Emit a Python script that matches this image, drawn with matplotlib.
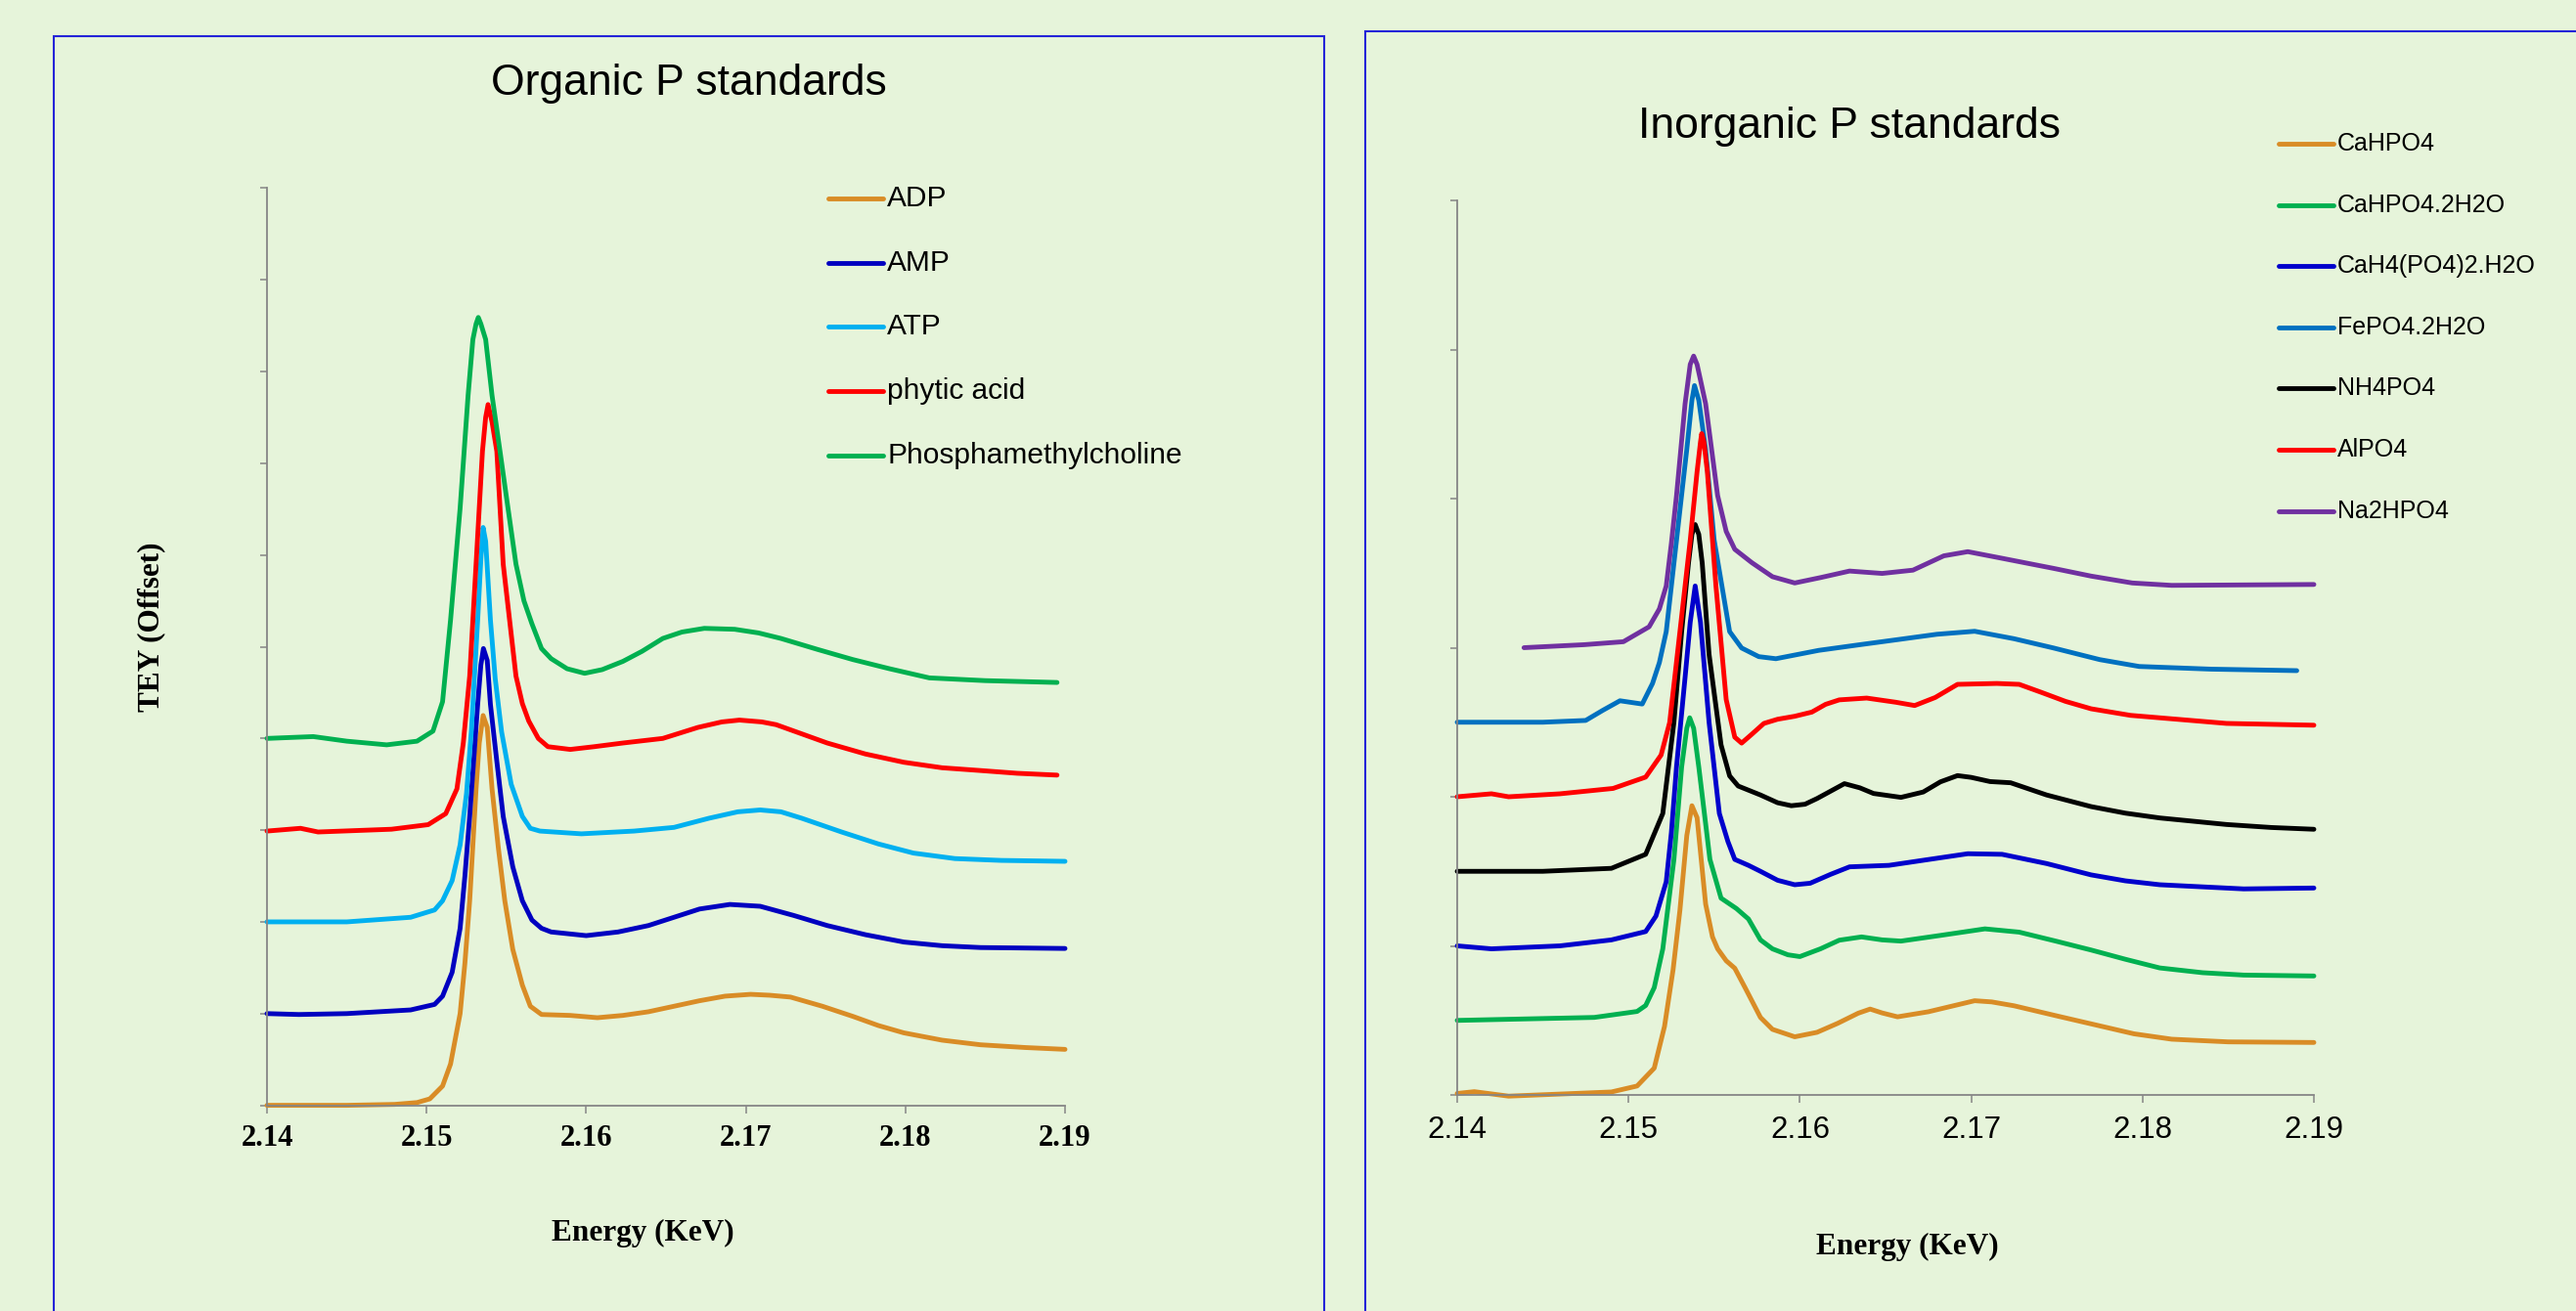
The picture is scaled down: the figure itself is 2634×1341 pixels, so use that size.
import matplotlib
matplotlib.use("Agg")
import matplotlib.pyplot as plt
from matplotlib.lines import Line2D
from matplotlib.patches import Rectangle

# ---- Organic P standards (offset spectra, left panel) ----
adp_e = [2.140, 2.145, 2.148, 2.1494, 2.1502, 2.1510, 2.1515, 2.1521, 2.1524, 2.1527,
         2.1531, 2.1533, 2.15354, 2.1538, 2.1541, 2.1545, 2.1549, 2.1554, 2.1560, 2.1565,
         2.1572, 2.1590, 2.1607, 2.1623, 2.1639, 2.1655, 2.1671, 2.1687, 2.1703, 2.1715,
         2.1728, 2.1748, 2.1767, 2.1783, 2.1799, 2.1823, 2.1847, 2.1875, 2.1900]
adp_v = [0.00, 0.00, 0.01, 0.03, 0.07, 0.21, 0.45, 1.00, 1.55, 2.23,
         3.45, 3.95, 4.25, 4.12, 3.45, 2.80, 2.23, 1.70, 1.31, 1.08,
         0.99, 0.98, 0.955, 0.98, 1.02, 1.08, 1.14, 1.19, 1.21, 1.20,
         1.18, 1.08, 0.97, 0.87, 0.79, 0.71, 0.66, 0.63, 0.61]

amp_e = [2.140, 2.142, 2.145, 2.149, 2.1505, 2.1510, 2.1516, 2.1521, 2.1524, 2.1527,
         2.1532, 2.1534, 2.15356, 2.1538, 2.1540, 2.1544, 2.1548, 2.1554, 2.1560, 2.1566,
         2.1572, 2.1578, 2.1600, 2.1620, 2.1639, 2.1655, 2.1671, 2.1690, 2.1709, 2.1730,
         2.1751, 2.1775, 2.1799, 2.1823, 2.1847, 2.1900]
amp_v = [1.00, 0.99, 1.00, 1.04, 1.10, 1.19, 1.45, 1.93, 2.50, 3.15,
         4.37, 4.80, 4.98, 4.85, 4.37, 3.75, 3.15, 2.60, 2.23, 2.02,
         1.93, 1.89, 1.85, 1.89, 1.96, 2.05, 2.14, 2.19, 2.17, 2.07,
         1.96, 1.86, 1.78, 1.74, 1.72, 1.71]

atp_e = [2.140, 2.145, 2.149, 2.1505, 2.1510, 2.1516, 2.1521, 2.1525, 2.1528, 2.1532,
         2.1534, 2.15354, 2.1537, 2.1540, 2.1543, 2.1547, 2.1553, 2.1560, 2.1565, 2.1571,
         2.1597, 2.1630, 2.1655, 2.1677, 2.1695, 2.1709, 2.1722, 2.1735, 2.1760, 2.1783,
         2.1805, 2.1831, 2.1860, 2.1900]
atp_v = [2.00, 2.00, 2.05, 2.13, 2.23, 2.45, 2.84, 3.40, 4.07, 5.29,
         5.95, 6.30, 6.15, 5.29, 4.65, 4.07, 3.50, 3.15, 3.02, 2.99,
         2.96, 2.99, 3.03, 3.13, 3.20, 3.22, 3.20, 3.13, 2.98, 2.85,
         2.75, 2.69, 2.67, 2.66]

phytic_e = [2.140, 2.1421, 2.1432, 2.1478, 2.1501, 2.1512, 2.1519, 2.1523, 2.1527, 2.1531,
            2.1535, 2.1537, 2.15385, 2.1541, 2.1544, 2.1548, 2.1556, 2.1560, 2.1564, 2.1570,
            2.1576, 2.1590, 2.1605, 2.1623, 2.1648, 2.1670, 2.1685, 2.1696, 2.1710, 2.1719,
            2.1735, 2.1751, 2.1775, 2.1799, 2.1823, 2.1847, 2.1870, 2.1895]
phytic_v = [2.99, 3.02, 2.98, 3.01, 3.06, 3.18, 3.45, 3.95, 4.68, 5.90,
            7.13, 7.50, 7.64, 7.45, 7.13, 5.90, 4.68, 4.38, 4.19, 4.00,
            3.91, 3.88, 3.91, 3.95, 4.00, 4.12, 4.18, 4.20, 4.18, 4.15,
            4.05, 3.95, 3.83, 3.74, 3.68, 3.65, 3.62, 3.60]

pmc_e = [2.140, 2.1429, 2.1450, 2.1475, 2.1494, 2.1504, 2.1510, 2.1515, 2.1521, 2.1526,
         2.1529, 2.1531, 2.15324, 2.1534, 2.1537, 2.1541, 2.1546, 2.1551, 2.1556, 2.1561,
         2.1566, 2.1572, 2.1578, 2.1588, 2.1599, 2.1610, 2.1623, 2.1635, 2.1648, 2.1660,
         2.1674, 2.1693, 2.1708, 2.1722, 2.1745, 2.1767, 2.1790, 2.1815, 2.1850, 2.1895]
pmc_v = [4.00, 4.02, 3.97, 3.93, 3.97, 4.08, 4.40, 5.29, 6.51, 7.74,
         8.35, 8.52, 8.59, 8.52, 8.35, 7.74, 7.13, 6.51, 5.90, 5.50,
         5.25, 4.98, 4.87, 4.76, 4.71, 4.75, 4.84, 4.95, 5.09, 5.16,
         5.20, 5.19, 5.15, 5.09, 4.97, 4.86, 4.76, 4.66, 4.63, 4.61]

organic_names = ["ADP", "AMP", "ATP", "phytic acid", "Phosphamethylcholine"]
organic_colors = ["#D98C26", "#0000C0", "#00B0F0", "#FF0000", "#00B050"]

# ---- Inorganic P standards (offset spectra, right panel) ----
cahpo4_e = [2.140, 2.141, 2.143, 2.146, 2.149, 2.1505, 2.1515, 2.1521, 2.1526, 2.1530,
            2.1534, 2.1537, 2.1540, 2.1545, 2.1549, 2.1552, 2.1557, 2.1562, 2.1568, 2.1577,
            2.1584, 2.1597, 2.1610, 2.1622, 2.1634, 2.1641, 2.1648, 2.1657, 2.1675, 2.1702,
            2.1712, 2.1725, 2.1750, 2.1771, 2.1795, 2.1817, 2.1850, 2.1900]
cahpo4_v = [0.005, 0.011, -0.004, 0.003, 0.01, 0.03, 0.09, 0.23, 0.42, 0.62,
            0.87, 0.97, 0.93, 0.64, 0.53, 0.49, 0.45, 0.425, 0.36, 0.26,
            0.22, 0.195, 0.21, 0.24, 0.274, 0.288, 0.275, 0.262, 0.279, 0.316,
            0.312, 0.299, 0.265, 0.237, 0.205, 0.187, 0.178, 0.176]

cahpo4_2h2o_e = [2.140, 2.148, 2.1505, 2.1510, 2.1515, 2.1520, 2.15265, 2.1531, 2.1534, 2.15357,
                 2.1538, 2.1541, 2.15475, 2.1554, 2.1563, 2.1570, 2.1577, 2.1584, 2.1593, 2.1600,
                 2.1612, 2.1623, 2.1636, 2.1648, 2.1659, 2.1682, 2.1708, 2.1728, 2.1750, 2.1770,
                 2.1790, 2.1810, 2.1835, 2.1859, 2.1900]
cahpo4_2h2o_v = [0.25, 0.26, 0.28, 0.30, 0.36, 0.49, 0.79, 1.10, 1.23, 1.265,
                 1.23, 1.10, 0.79, 0.66, 0.625, 0.59, 0.52, 0.49, 0.47, 0.464,
                 0.49, 0.519, 0.53, 0.52, 0.516, 0.535, 0.557, 0.546, 0.515, 0.486,
                 0.455, 0.426, 0.41, 0.402, 0.399]

cah4_e = [2.140, 2.142, 2.146, 2.149, 2.1510, 2.1516, 2.1522, 2.1525, 2.1528, 2.1533,
          2.1536, 2.15389, 2.1542, 2.1547, 2.1553, 2.1558, 2.1562, 2.1570, 2.1577, 2.1587,
          2.1597, 2.1606, 2.1618, 2.1629, 2.1652, 2.1672, 2.1698, 2.1718, 2.1744, 2.1770,
          2.1790, 2.1810, 2.1859, 2.1900]
cah4_v = [0.50, 0.49, 0.50, 0.52, 0.548, 0.60, 0.715, 0.88, 1.10, 1.40,
          1.585, 1.707, 1.585, 1.25, 0.944, 0.85, 0.79, 0.77, 0.75, 0.72,
          0.705, 0.71, 0.74, 0.765, 0.77, 0.787, 0.809, 0.807, 0.776, 0.738,
          0.718, 0.705, 0.691, 0.694]

fepo4_e = [2.140, 2.145, 2.1475, 2.1485, 2.1495, 2.1508, 2.1514, 2.1518, 2.1522, 2.1528,
           2.1534, 2.1537, 2.15385, 2.1541, 2.1545, 2.1550, 2.1559, 2.1566, 2.1576, 2.1586,
           2.1611, 2.1635, 2.1657, 2.1680, 2.1702, 2.1725, 2.1748, 2.1775, 2.1798, 2.1840,
           2.1890]
fepo4_v = [1.25, 1.25, 1.256, 1.29, 1.322, 1.311, 1.38, 1.45, 1.554, 1.86,
           2.165, 2.33, 2.379, 2.33, 2.165, 1.86, 1.554, 1.499, 1.47, 1.463,
           1.491, 1.51, 1.527, 1.545, 1.555, 1.53, 1.499, 1.46, 1.437, 1.428,
           1.423]

nh4po4_e = [2.140, 2.145, 2.1490, 2.1510, 2.1520, 2.15265, 2.1531, 2.1535, 2.1537, 2.15389,
            2.1541, 2.1543, 2.1547, 2.1554, 2.1559, 2.1564, 2.1577, 2.1587, 2.1595, 2.1603,
            2.1610, 2.1626, 2.1635, 2.1643, 2.1659, 2.1672, 2.1682, 2.1692, 2.1700, 2.1711,
            2.1723, 2.1744, 2.1770, 2.1790, 2.1810, 2.1849, 2.1875, 2.1900]
nh4po4_v = [0.75, 0.75, 0.76, 0.807, 0.944, 1.25, 1.554, 1.784, 1.88, 1.913,
            1.88, 1.784, 1.478, 1.174, 1.07, 1.036, 1.006, 0.98, 0.97, 0.975,
            0.994, 1.044, 1.03, 1.011, 0.998, 1.016, 1.05, 1.071, 1.065, 1.051,
            1.047, 1.006, 0.967, 0.945, 0.929, 0.907, 0.897, 0.891]

alpo4_e = [2.140, 2.142, 2.143, 2.146, 2.1491, 2.1510, 2.1519, 2.1524, 2.1530, 2.1536,
           2.1540, 2.1542, 2.15427, 2.1544, 2.1546, 2.1551, 2.1557, 2.1562, 2.1566, 2.1572,
           2.1579, 2.1587, 2.1597, 2.1607, 2.1615, 2.1623, 2.1639, 2.1656, 2.1667, 2.1679,
           2.1692, 2.1715, 2.1728, 2.1741, 2.1755, 2.1770, 2.1793, 2.1820, 2.1849, 2.1900]
alpo4_v = [1.00, 1.01, 1.00, 1.01, 1.028, 1.066, 1.14, 1.249, 1.554, 1.86,
           2.09, 2.19, 2.218, 2.19, 2.09, 1.708, 1.326, 1.20, 1.18, 1.21,
           1.246, 1.26, 1.27, 1.284, 1.31, 1.325, 1.331, 1.317, 1.306, 1.333,
           1.377, 1.38, 1.377, 1.35, 1.32, 1.295, 1.273, 1.26, 1.246, 1.24]

na2hpo4_e = [2.1439, 2.1474, 2.1497, 2.1512, 2.1518, 2.1522, 2.1525, 2.1528, 2.1533, 2.1536,
             2.1538, 2.1540, 2.1545, 2.1552, 2.1557, 2.1562, 2.1572, 2.1584, 2.1597, 2.1612,
             2.1629, 2.1648, 2.1666, 2.1684, 2.1698, 2.1716, 2.1748, 2.1770, 2.1794, 2.1817,
             2.1900]
na2hpo4_v = [1.50, 1.51, 1.52, 1.57, 1.63, 1.707, 1.85, 2.01, 2.318, 2.45,
             2.478, 2.45, 2.318, 2.01, 1.89, 1.83, 1.785, 1.738, 1.717, 1.735,
             1.757, 1.749, 1.76, 1.808, 1.822, 1.802, 1.766, 1.74, 1.717, 1.709,
             1.712]

inorganic_names = ["CaHPO4", "CaHPO4.2H2O", "CaH4(PO4)2.H2O", "FePO4.2H2O",
                   "NH4PO4", "AlPO4", "Na2HPO4"]
inorganic_colors = ["#D98C26", "#00B050", "#0000CC", "#0070C0",
                    "#000000", "#FF0000", "#7030A0"]

organic = [(adp_e, adp_v), (amp_e, amp_v), (atp_e, atp_v),
           (phytic_e, phytic_v), (pmc_e, pmc_v)]
inorganic = [(cahpo4_e, cahpo4_v), (cahpo4_2h2o_e, cahpo4_2h2o_v), (cah4_e, cah4_v),
             (fepo4_e, fepo4_v), (nh4po4_e, nh4po4_v), (alpo4_e, alpo4_v),
             (na2hpo4_e, na2hpo4_v)]

energy_ticks = [2.14, 2.15, 2.16, 2.17, 2.18, 2.19]

bg = "#E6F4DA"
axis_grey = "#868686"
frame_blue = "#2424D8"
W, H = 2634, 1341
LW = 3.5

fig = plt.figure(figsize=(W / 100, H / 100), dpi=100, facecolor=bg)

def fx(px):
    return px / W

def fy(py):
    return 1 - py / H

# panel frames
fig.add_artist(Rectangle((fx(55), -0.05), fx(1354 - 55), fy(37) + 0.05, transform=fig.transFigure,
                         fill=False, edgecolor=frame_blue, lw=1.5))
fig.add_artist(Rectangle((fx(1396), -0.05), 0.6, fy(32) + 0.05, transform=fig.transFigure,
                         fill=False, edgecolor=frame_blue, lw=1.5))

def style_axes(ax):
    ax.set_facecolor(bg)
    for s in ["top", "right"]:
        ax.spines[s].set_visible(False)
    for s in ["left", "bottom"]:
        ax.spines[s].set_color(axis_grey)
        ax.spines[s].set_linewidth(1.3)
    ax.tick_params(axis="y", direction="out", length=5, width=1.1, color=axis_grey, labelleft=False)
    ax.tick_params(axis="x", direction="out", length=6, width=1.1, color=axis_grey)
    ax.set_xlim(2.14, 2.19)
    ax.set_xticks(energy_ticks)

# ---- left panel ----
ax1 = fig.add_axes([fx(273), fy(1130.6), fx(1089 - 273), (1130.6 - 192.4) / H])
style_axes(ax1)
for (e, v), c in zip(organic, organic_colors):
    ax1.plot(e, v, color=c, lw=LW, solid_capstyle="round", solid_joinstyle="round", clip_on=False)
ax1.set_ylim(0, 10)
ax1.set_yticks(range(0, 11))
ax1.set_xticklabels(["%.2f" % t for t in energy_ticks], fontfamily="Liberation Serif",
                    fontweight="bold", fontsize=22)
ax1.tick_params(axis="x", pad=8)

fig.text(fx(704), fy(86), "Organic P standards", ha="center", va="center",
         fontfamily="Liberation Sans", fontsize=32)
fig.text(fx(657), fy(1261), "Energy (KeV)", ha="center", va="center",
         fontfamily="Liberation Serif", fontweight="bold", fontsize=22.5)
fig.text(fx(155), fy(641), "TEY (Offset)", ha="center", va="center", rotation=90,
         fontfamily="Liberation Serif", fontweight="bold", fontsize=22.5)

for i, (name, c) in enumerate(zip(organic_names, organic_colors)):
    y = fy(203 + 65.7 * i)
    fig.add_artist(Line2D([fx(847), fx(903)], [y, y], transform=fig.transFigure,
                          color=c, lw=LW, solid_capstyle="round"))
    fig.text(fx(907), y, name, ha="left", va="center", fontfamily="Liberation Sans", fontsize=21.5)

# ---- right panel ----
ax2 = fig.add_axes([fx(1490), fy(1120), fx(2366 - 1490), (1120 - 205) / H])
style_axes(ax2)
for (e, v), c in zip(inorganic, inorganic_colors):
    ax2.plot(e, v, color=c, lw=LW, solid_capstyle="round", solid_joinstyle="round", clip_on=False)
ax2.set_ylim(0, 3)
ax2.set_yticks([0, 0.5, 1, 1.5, 2, 2.5, 3])
ax2.set_xticklabels(["%.2f" % t for t in energy_ticks], fontfamily="Liberation Sans", fontsize=22.5)
ax2.tick_params(axis="x", pad=9)

fig.text(fx(1891), fy(130), "Inorganic P standards", ha="center", va="center",
         fontfamily="Liberation Sans", fontsize=32)
fig.text(fx(1950), fy(1275), "Energy (KeV)", ha="center", va="center",
         fontfamily="Liberation Serif", fontweight="bold", fontsize=22.5)

for i, (name, c) in enumerate(zip(inorganic_names, inorganic_colors)):
    y = fy(147 + 62.6 * i)
    fig.add_artist(Line2D([fx(2330), fx(2386)], [y, y], transform=fig.transFigure,
                          color=c, lw=LW, solid_capstyle="round"))
    fig.text(fx(2390), y, name, ha="left", va="center", fontfamily="Liberation Sans", fontsize=18)

fig.savefig("out.png", dpi=100, facecolor=bg)
